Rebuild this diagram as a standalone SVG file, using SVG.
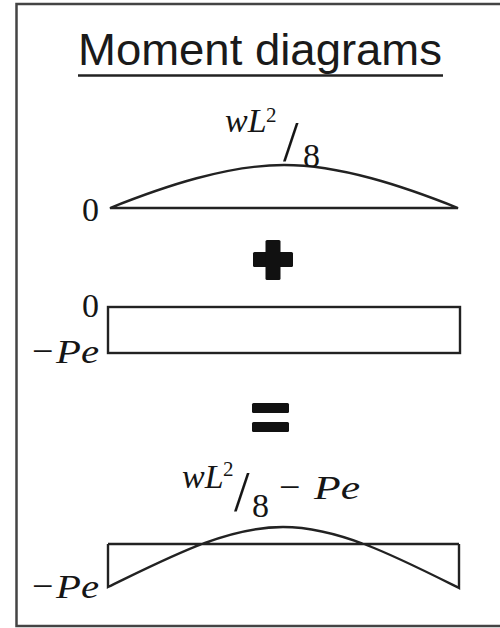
<svg xmlns="http://www.w3.org/2000/svg" width="500" height="628" viewBox="0 0 500 628">
<style>
.ln{fill:none;stroke:#222;stroke-width:2.4;stroke-linejoin:miter}
.m{font-family:"Liberation Serif","DejaVu Serif",serif;font-size:34px;fill:#151515}
.i{font-style:italic}
.sup{font-size:21px}
.sl{font-size:56px}
.mn{font-size:38px}
.ttl{font-family:"Liberation Sans",Arial,sans-serif;font-size:45px;fill:#1a1a1a}
.sym{fill:#111}
</style>
<rect width="500" height="628" fill="#ffffff"/>
<rect x="16.5" y="4" width="500" height="622" fill="none" stroke="#444" stroke-width="2.5"/>

<g id="title">
<text class="ttl" x="78" y="65" textLength="364" lengthAdjust="spacingAndGlyphs">Moment diagrams</text>
<line x1="78" y1="75.5" x2="443" y2="75.5" stroke="#222" stroke-width="2.5"/>
</g>

<g id="diagram-wl2-8">
<path class="ln" d="M110,208 C165,186 228,165 284,165 C340,165 403,186 458,208 Z"/>
<text class="m" x="82" y="221">0</text>
<text class="m i" x="225" y="132">wL</text>
<text class="m sup" x="266" y="122">2</text>
<text class="m sl" x="283" y="161">/</text>
<text class="m" x="303" y="167">8</text>
</g>

<g id="plus">
<rect class="sym" x="253" y="252" width="40" height="15" rx="1.5"/>
<rect class="sym" x="265.5" y="240" width="15" height="40" rx="1.5"/>
</g>

<g id="diagram-pe">
<rect class="ln" x="108" y="307" width="352" height="46"/>
<text class="m" x="82" y="317">0</text>
<text class="m mn" x="32" y="364">−</text>
<text class="m i" x="56" y="363" textLength="43" lengthAdjust="spacingAndGlyphs">Pe</text>
</g>

<g id="equals">
<rect class="sym" x="252" y="403" width="37" height="10" rx="1.5"/>
<rect class="sym" x="252" y="422" width="37" height="10" rx="1.5"/>
</g>

<g id="diagram-sum">
<path class="ln" d="M108,544 L459,544 M108,544 L108,587 C170,557 226,527 283,527 C339,527 397,557 459,588 L459,544"/>
<text class="m i" x="182" y="488">wL</text>
<text class="m sup" x="223" y="476">2</text>
<text class="m sl" x="234" y="511">/</text>
<text class="m" x="252" y="517">8</text>
<text class="m mn" x="279" y="500">−</text>
<text class="m i" x="314" y="499" textLength="46" lengthAdjust="spacingAndGlyphs">Pe</text>
<text class="m mn" x="32" y="599">−</text>
<text class="m i" x="56" y="598" textLength="43" lengthAdjust="spacingAndGlyphs">Pe</text>
</g>
</svg>
